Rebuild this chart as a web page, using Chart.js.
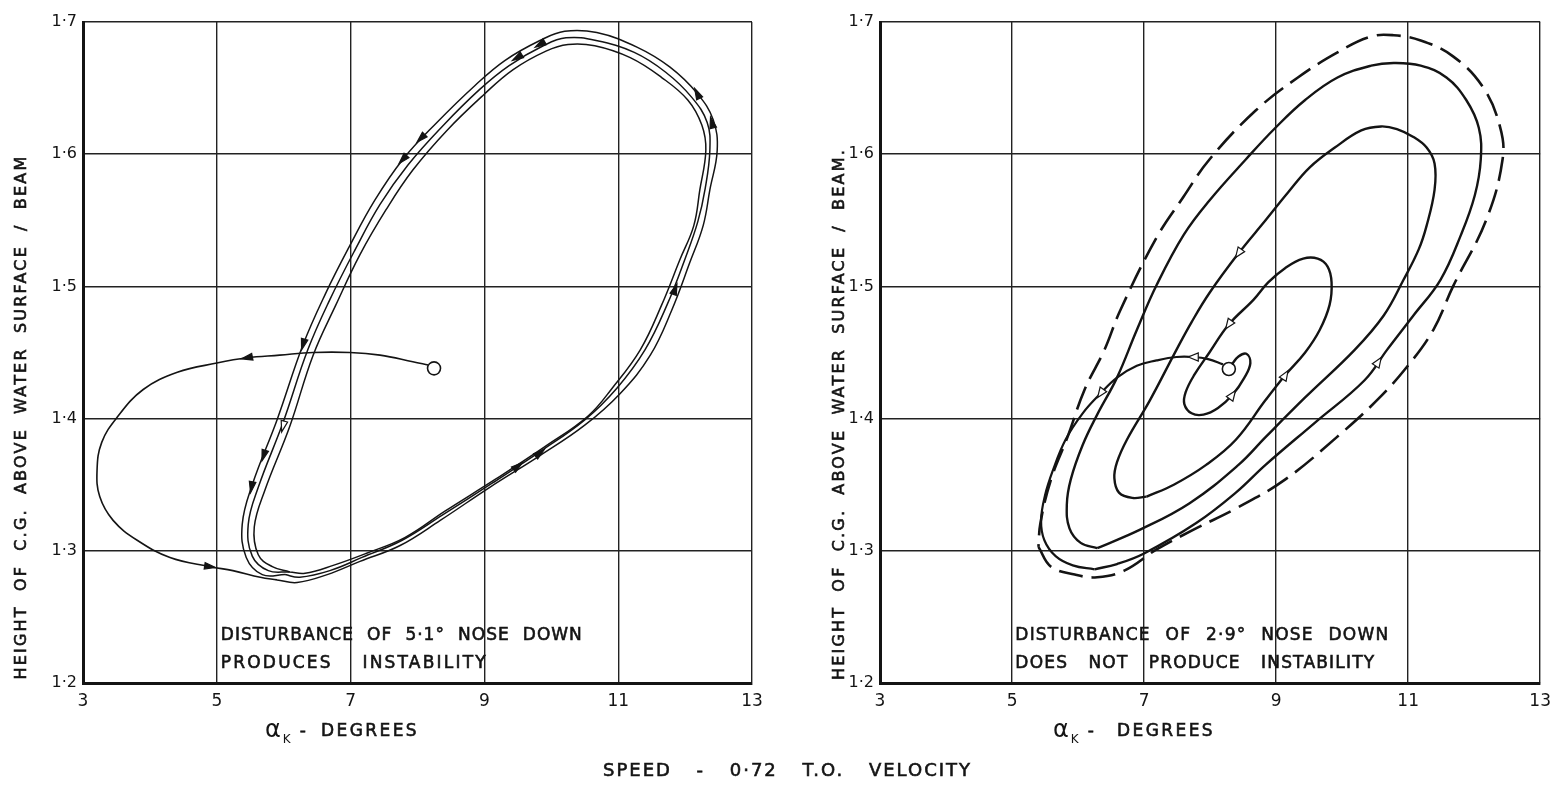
<!DOCTYPE html>
<html>
<head>
<meta charset="utf-8">
<script src="https://cdn.jsdelivr.net/npm/chart.js@4.4.1/dist/chart.umd.min.js"></script>
<style>
  html, body { margin: 0; padding: 0; background: #fff; }
  #page { position: relative; width: 1559px; height: 786px; overflow: hidden; background: #fff; }
  #page canvas { position: absolute; top: 0; }
</style>
</head>
<body>
<div id="page">
  <canvas id="leftChart" width="780" height="786" style="left:0"></canvas>
  <canvas id="rightChart" width="779" height="786" style="left:780px"></canvas>
  <canvas id="caption" width="1559" height="40" style="left:0; top:750px"></canvas>
</div>
<script>
// axis ticks (shared by both panels)
const xTicks = [3, 5, 7, 9, 11, 13];
const yTicks = [1.2, 1.3, 1.4, 1.5, 1.6, 1.7];

// ---- left panel: 5.1 deg disturbance, [alpha_k, height/beam]
const leftStart = [[8.16,1.4405],[7.93,1.443],[7.44,1.448],[6.99,1.450],[6.44,1.450],[5.94,1.448],[5.45,1.446],
  [5.00,1.442],[4.41,1.435],[3.90,1.422],[3.51,1.401],[3.28,1.382],[3.21,1.361],[3.25,1.341],[3.45,1.323],
  [3.81,1.308],[4.30,1.295],[4.90,1.288],[5.24,1.285],[5.65,1.280],[5.90,1.278]];
const leftLoopA = [[5.90,1.278],[6.20,1.276],[6.65,1.282],[7.14,1.292],[7.74,1.304],[8.34,1.323],[9.08,1.348],
  [9.83,1.372],[10.50,1.395],[11.03,1.419],[11.48,1.448],[11.80,1.482],[12.07,1.518],[12.27,1.546],[12.37,1.573],
  [12.48,1.603],[12.42,1.626],[12.18,1.646],[11.77,1.666],[11.28,1.681],[10.68,1.692],[10.20,1.693],[9.83,1.686],
  [9.31,1.671],[8.86,1.652],[8.29,1.624],[7.78,1.596],[7.36,1.565],[6.99,1.531],[6.62,1.494],[6.29,1.456],
  [5.90,1.399],[5.53,1.350],[5.38,1.320],[5.44,1.295],[5.68,1.282],[6.02,1.282]];
const leftLoopB = [[6.02,1.282],[6.24,1.280],[6.69,1.285],[7.17,1.295],[7.77,1.308],[8.37,1.327],[9.11,1.351],
  [9.86,1.376],[10.50,1.399],[10.98,1.423],[11.40,1.452],[11.73,1.486],[12.00,1.521],[12.19,1.549],[12.30,1.574],
  [12.37,1.603],[12.33,1.624],[12.10,1.643],[11.71,1.662],[11.24,1.677],[10.67,1.686],[10.22,1.688],[9.88,1.682],
  [9.37,1.667],[8.93,1.649],[8.37,1.621],[7.86,1.592],[7.44,1.562],[7.07,1.528],[6.69,1.490],[6.36,1.452],
  [5.99,1.397],[5.62,1.348],[5.47,1.320],[5.53,1.296],[5.77,1.285],[6.09,1.284]];
const leftLoopC = [[6.09,1.284],[6.32,1.283],[6.74,1.289],[7.23,1.298],[7.81,1.310],[8.41,1.330],[9.16,1.354],
  [9.91,1.379],[10.55,1.402],[10.91,1.423],[11.33,1.452],[11.65,1.486],[11.92,1.520],[12.13,1.546],[12.22,1.573],
  [12.31,1.603],[12.25,1.622],[12.04,1.641],[11.65,1.658],[11.18,1.673],[10.65,1.682],[10.25,1.683],[9.92,1.678],
  [9.43,1.664],[8.99,1.645],[8.44,1.618],[7.93,1.588],[7.53,1.558],[7.14,1.524],[6.78,1.486],[6.44,1.448],
  [6.09,1.394],[5.72,1.346],[5.56,1.318],[5.62,1.297],[5.83,1.288],[6.09,1.284]];
const leftOrigin = [[8.247,1.438]];
// arrow heads: [x, y, towardX, towardY, open]
const leftArrows = [[5.45,1.446,5.25,1.444,0],[4.90,1.288,5.10,1.2865,0],[6.29,1.456,6.25,1.449,0],
  [5.70,1.372,5.65,1.364,0],[5.52,1.348,5.49,1.340,0],[5.99,1.394,5.95,1.386,1],[7.78,1.596,7.68,1.5905,0],
  [8.05,1.612,7.95,1.607,0],[9.49,1.673,9.39,1.670,0],[9.83,1.683,9.73,1.680,0],[12.18,1.646,12.13,1.651,0],
  [12.40,1.624,12.37,1.630,0],[11.85,1.498,11.90,1.505,0],[9.50,1.364,9.60,1.368,0],[9.83,1.374,9.93,1.378,0]];

// ---- right panel: 2.9 deg disturbance
const rightArc = [[8.195,1.441],[7.97,1.445],[7.745,1.4466],[7.49,1.4466],[7.19,1.444],[6.89,1.440],[6.59,1.431],
  [6.34,1.419],[6.07,1.404],[5.81,1.384],[5.62,1.361],[5.50,1.342],[5.44,1.323],[5.49,1.308],[5.66,1.296],
  [5.92,1.289],[6.25,1.286]];
const rightTurn1 = [[6.25,1.286],[6.59,1.290],[7.00,1.298],[7.79,1.321],[8.39,1.344],[8.84,1.365],[9.59,1.397],
  [10.34,1.429],[10.68,1.452],[11.08,1.478],[11.49,1.505],[11.80,1.539],[12.01,1.569],[12.10,1.596],[12.07,1.620],
  [11.88,1.641],[11.58,1.658],[11.19,1.667],[10.78,1.669],[10.44,1.667],[9.93,1.658],[9.44,1.641],[8.99,1.620],
  [8.54,1.596],[7.99,1.565],[7.60,1.539],[7.19,1.501],[6.89,1.467],[6.59,1.431],[6.29,1.403],[6.07,1.380],
  [5.89,1.354],[5.83,1.335],[5.87,1.317],[6.04,1.306],[6.29,1.302]];
const rightTurn2 = [[6.29,1.302],[6.94,1.316],[7.69,1.336],[8.43,1.365],[8.84,1.386],[9.44,1.416],[10.19,1.452],
  [10.63,1.478],[10.93,1.505],[11.16,1.528],[11.28,1.546],[11.40,1.573],[11.40,1.593],[11.28,1.605],[11.08,1.613],
  [10.83,1.619],[10.59,1.621],[10.29,1.618],[9.89,1.605],[9.51,1.590],[9.18,1.571],[8.84,1.550],[8.43,1.525],
  [7.99,1.495],[7.72,1.473],[7.49,1.452],[7.09,1.414],[6.74,1.384],[6.59,1.367],[6.55,1.355],[6.62,1.344],
  [6.82,1.340],[7.04,1.341]];
const rightTurn3 = [[7.04,1.341],[7.45,1.350],[7.94,1.365],[8.39,1.384],[8.84,1.414],[9.14,1.433],[9.44,1.450],
  [9.66,1.467],[9.81,1.486],[9.84,1.503],[9.78,1.515],[9.63,1.521],[9.41,1.521],[9.14,1.514],[8.88,1.503],
  [8.66,1.490],[8.28,1.471],[7.99,1.450],[7.76,1.433],[7.63,1.420],[7.61,1.411],[7.72,1.404],[7.90,1.403],
  [8.12,1.408],[8.34,1.418],[8.52,1.431],[8.61,1.442],[8.55,1.449],[8.43,1.447],[8.33,1.441]];
const rightBoundary = [[5.40,1.303],[5.59,1.288],[5.95,1.282],[6.29,1.280],[6.70,1.285],[7.19,1.301],[7.75,1.316],
  [8.43,1.333],[9.14,1.354],[9.92,1.386],[10.51,1.413],[10.98,1.439],[11.38,1.467],[11.68,1.500],[12.18,1.550],
  [12.43,1.596],[12.39,1.621],[12.13,1.651],[11.68,1.674],[11.19,1.686],[10.78,1.690],[10.44,1.689],[9.93,1.677],
  [9.33,1.658],[8.69,1.633],[7.99,1.596],[7.60,1.568],[7.19,1.537],[6.64,1.482],[6.40,1.452],[6.10,1.422],
  [5.84,1.386],[5.59,1.354],[5.43,1.321],[5.40,1.303]];
const rightOrigin = [[8.284,1.4375]];
const rightArrows = [[7.745,1.4466,7.55,1.4466,1],[6.34,1.419,6.24,1.412,1],[8.43,1.525,8.33,1.518,1],
  [8.28,1.471,8.18,1.464,1],[8.34,1.418,8.44,1.425,1],[9.14,1.433,9.24,1.441,1],[10.55,1.443,10.63,1.449,1]];

const FONT = '"DejaVu Sans", sans-serif';
const INK = '#141414';

function pts(arr) { return arr.map(p => ({ x: p[0], y: p[1] })); }

// letters at a fixed spacing, word gaps stretched so the line spans `width`
function spaced(ctx, text, x, y, width, ls) {
  ctx.letterSpacing = ls + 'px';
  ctx.wordSpacing = '0px';
  const w = ctx.measureText(text).width;
  const gaps = (text.match(/ /g) || []).length;
  if (gaps) ctx.wordSpacing = ((width - w) / gaps).toFixed(2) + 'px';
  ctx.fillText(text, x, y);
  ctx.lineWidth = 0.6;
  ctx.strokeStyle = INK;
  ctx.strokeText(text, x, y);
  ctx.letterSpacing = '0px';
  ctx.wordSpacing = '0px';
}

const arrowMarks = {
  id: 'arrowMarks',
  afterDatasetsDraw(chart, args, opts) {
    const { ctx, scales: { x, y } } = chart;
    (opts.items || []).forEach(a => {
      const px = x.getPixelForValue(a[0]), py = y.getPixelForValue(a[1]);
      const ang = Math.atan2(y.getPixelForValue(a[3]) - py, x.getPixelForValue(a[2]) - px);
      ctx.save();
      ctx.translate(px, py);
      ctx.rotate(ang);
      ctx.beginPath();
      ctx.moveTo(opts.len / 2, 0);
      ctx.lineTo(-opts.len / 2, -opts.half);
      ctx.lineTo(-opts.len / 2, opts.half);
      ctx.closePath();
      ctx.fillStyle = a[4] ? '#fff' : INK;
      ctx.fill();
      ctx.lineWidth = 1.2;
      ctx.strokeStyle = INK;
      ctx.stroke();
      ctx.restore();
    });
  }
};

const panelText = {
  id: 'panelText',
  afterDraw(chart, args, o) {
    const { ctx, scales: { x, y } } = chart;
    ctx.save();
    ctx.fillStyle = INK;
    ctx.textBaseline = 'middle';
    ctx.textAlign = 'left';
    // note inside the plot
    ctx.font = '17px ' + FONT;
    o.notes.forEach(n => spaced(ctx, n.text, x.getPixelForValue(n.x), y.getPixelForValue(n.y), n.width, n.ls));
    // y title (rotated)
    ctx.save();
    ctx.translate(o.yTitle.cx, o.yTitle.cy);
    ctx.rotate(-Math.PI / 2);
    ctx.font = '16px ' + FONT;
    spaced(ctx, o.yTitle.text, -o.yTitle.len / 2, 0, o.yTitle.len, 2.2);
    ctx.restore();
    // x title: alpha with subscript K
    const t = o.xTitle;
    ctx.font = '24px ' + FONT;
    ctx.fillText('α', t.left, t.y - 1);
    const aw = ctx.measureText('α').width;
    ctx.font = '12px ' + FONT;
    ctx.fillText('K', t.left + aw + 2, t.y + 8);
    const kw = ctx.measureText('K').width;
    ctx.font = '17px ' + FONT;
    const start = t.left + aw + kw + 11;
    spaced(ctx, '- DEGREES', start, t.y, t.left + t.width - start, 2.4);
    ctx.restore();
  }
};

function makePanel(id, yAxisWidth, padRight, datasets, arrows, arrowSize, texts) {
  return new Chart(document.getElementById(id), {
    type: 'scatter',
    data: { datasets },
    plugins: [arrowMarks, panelText],
    options: {
      responsive: false,
      animation: false,
      devicePixelRatio: 1,
      layout: { padding: { top: 22, right: padRight, left: 0, bottom: 0 } },
      elements: { point: { radius: 0 } },
      plugins: {
        legend: { display: false },
        tooltip: { enabled: false },
        arrowMarks: { items: arrows, len: arrowSize[0], half: arrowSize[1] },
        panelText: texts
      },
      scales: {
        x: {
          type: 'linear', min: xTicks[0], max: xTicks[xTicks.length - 1],
          afterBuildTicks: s => { s.ticks = xTicks.map(v => ({ value: v })); },
          afterFit: s => { s.height = 103; },
          ticks: { color: INK, font: { family: FONT, size: 17 }, padding: 8, callback: v => String(v) },
          grid: { color: '#222', lineWidth: 1.4, drawTicks: false },
          border: { display: true, color: INK, width: 3 }
        },
        y: {
          type: 'linear', min: yTicks[0], max: yTicks[yTicks.length - 1],
          afterBuildTicks: s => { s.ticks = yTicks.map(v => ({ value: v })); },
          afterFit: s => { s.width = yAxisWidth; },
          ticks: { color: INK, font: { family: FONT, size: 16 }, padding: 6,
                   callback: v => Number(v).toFixed(1).replace('.', '·') },
          grid: { color: '#222', lineWidth: 1.4, drawTicks: false },
          border: { display: true, color: INK, width: 3 }
        }
      }
    }
  });
}

function curve(arr, width, dash) {
  return { data: pts(arr), showLine: true, borderColor: INK, borderWidth: width,
           borderDash: dash || [], tension: 0.4, pointRadius: 0, fill: false };
}
function origin(arr) {
  return { data: pts(arr), showLine: false, pointRadius: 6.5, pointBorderWidth: 1.6,
           pointBackgroundColor: '#fff', pointBorderColor: INK };
}

makePanel('leftChart', 83, 28, [
  curve(leftStart, 1.6), curve(leftLoopA, 1.5), curve(leftLoopB, 1.5), curve(leftLoopC, 1.5), origin(leftOrigin)
], leftArrows, [11, 3.3], {
  notes: [
    { text: 'DISTURBANCE OF 5·1° NOSE DOWN', x: 5.06, y: 1.2356, width: 362, ls: 1 },
    { text: 'PRODUCES INSTABILITY', x: 5.06, y: 1.2144, width: 267, ls: 2.2 }
  ],
  yTitle: { text: 'HEIGHT OF C.G. ABOVE WATER SURFACE / BEAM', cx: 22, cy: 417, len: 525 },
  xTitle: { left: 265, y: 732, width: 154 }
});

makePanel('rightChart', 100, 11, [
  curve(rightBoundary, 2.6, [24, 9]), curve(rightArc, 2.2), curve(rightTurn1, 2.4),
  curve(rightTurn2, 2.4), curve(rightTurn3, 2.4), origin(rightOrigin)
], rightArrows, [10, 4], {
  notes: [
    { text: 'DISTURBANCE OF 2·9° NOSE DOWN', x: 5.05, y: 1.2356, width: 374, ls: 1.2 },
    { text: 'DOES NOT PRODUCE INSTABILITY', x: 5.05, y: 1.2144, width: 360, ls: 1.2 }
  ],
  yTitle: { text: 'HEIGHT OF C.G. ABOVE WATER SURFACE / BEAM.', cx: 60, cy: 414, len: 532 },
  xTitle: { left: 273, y: 732, width: 162 }
});

// common caption under both panels
const cap = document.getElementById('caption').getContext('2d');
cap.fillStyle = INK;
cap.font = '18px ' + FONT;
cap.textBaseline = 'middle';
spaced(cap, 'SPEED - 0·72 T.O. VELOCITY', 603, 21, 369, 2);
</script>
</body>
</html>
